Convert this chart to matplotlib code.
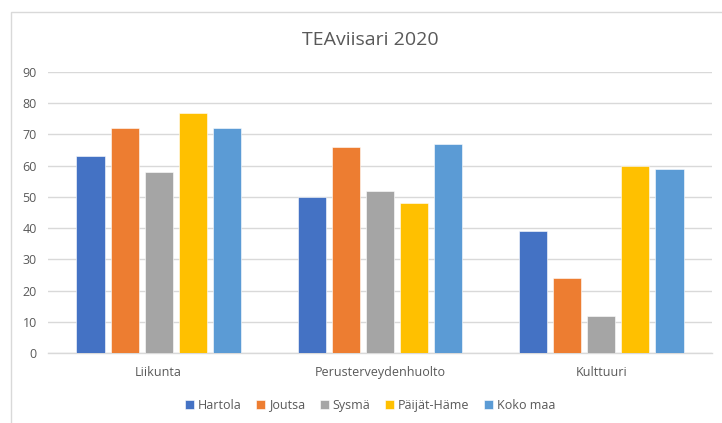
import matplotlib
matplotlib.use("Agg")
import matplotlib.pyplot as plt
import numpy as np
from matplotlib.patches import Rectangle

categories = ["Liikunta", "Perusterveydenhuolto", "Kulttuuri"]
series_names = ["Hartola", "Joutsa", "Sysmä", "Päijät-Häme", "Koko maa"]
hartola = [63, 50, 39]
joutsa = [72, 66, 24]
sysma = [58, 52, 12]
paijat_hame = [77, 48, 60]
koko_maa = [72, 67, 59]
colors = ["#4472C4", "#ED7D31", "#A5A5A5", "#FFC000", "#5B9BD5"]
yticks = [0, 10, 20, 30, 40, 50, 60, 70, 80, 90]

plt.rcParams['font.family'] = ['Open Sans', 'DejaVu Sans']

W, H = 722, 423
fig = plt.figure(figsize=(W / 100, H / 100), dpi=100)
fig.patch.set_facecolor("white")

# outer chart border (partially visible frame)
fig.add_artist(Rectangle((11 / W, -0.1), 1.2, (H - 12) / H + 0.1, transform=fig.transFigure,
                         fill=False, edgecolor="#d9d9d9", linewidth=1.0))

left, right, top, bottom = 48, 712, 72, 353
ax = fig.add_axes([left / W, 1 - bottom / H, (right - left) / W, (bottom - top) / H])

data = [hartola, joutsa, sysma, paijat_hame, koko_maa]
x = np.arange(len(categories))
n = len(series_names)
step = 0.154
width = 0.127
for i, (vals, name, c) in enumerate(zip(data, series_names, colors)):
    ax.bar(x + (i - (n - 1) / 2) * step, vals, width=width, color=c, label=name,
           edgecolor="white", linewidth=0.4, zorder=3)

ax.set_xlim(-0.5, len(categories) - 0.5)
ax.set_ylim(0, 90)
ax.set_yticks(yticks)
ax.set_yticklabels([str(v) for v in yticks])
ax.set_xticks(x)
ax.set_xticklabels(categories)
ax.yaxis.grid(True, color="#d9d9d9", linewidth=1.0, zorder=0)
ax.set_axisbelow(True)
for s in ["top", "right", "left"]:
    ax.spines[s].set_visible(False)
ax.spines["bottom"].set_color("#d9d9d9")
ax.spines["bottom"].set_linewidth(1.0)
ax.tick_params(axis="both", length=0, labelsize=9, colors="#595959")
ax.tick_params(axis="y", pad=8)
ax.tick_params(axis="x", pad=9)

fig.text(370 / W, 1 - 40 / H, "TEAviisari 2020", ha="center", va="center",
         fontsize=14, color="#595959")

leg = fig.legend(loc="center", bbox_to_anchor=(370 / W, 1 - 405 / H), ncol=5,
                 frameon=False, fontsize=9, handlelength=0.7, handleheight=0.7,
                 handletextpad=0.3, columnspacing=1.2)
for t in leg.get_texts():
    t.set_color("#595959")

fig.savefig("out.png", dpi=100)
